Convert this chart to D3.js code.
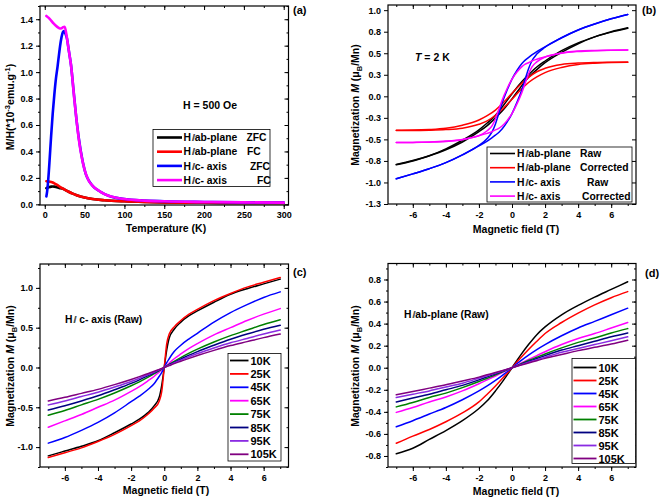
<!DOCTYPE html>
<html><head><meta charset="utf-8">
<script src="https://cdn.jsdelivr.net/npm/d3@7"></script>
<style>
body{margin:0;background:#fff}
svg{display:block}
text{font-family:"Liberation Sans",Arial,sans-serif;font-weight:bold;fill:#000}
</style>
</head><body>
<svg id="chart" width="660" height="499"></svg>
<script>
// ---------------- Panel (a): M/H vs T ----------------
const aTempZFCab = [2,4,6,8,10,12,14,16,18,20,22,25,30,35,40,50,60,75,100,125,150,200,250,300];
const aZFCab     = [0.122,0.127,0.131,0.134,0.135,0.134,0.132,0.128,0.124,0.122,0.119,0.111,0.095,0.081,0.069,0.051,0.04,0.031,0.023,0.018,0.015,0.012,0.011,0.01];
const aTempFCab  = [2,5,8,10,12,15,18,20,22,25,30,35,40,50,60,75,100,125,150,200,250,300];
const aFCab      = [0.175,0.173,0.169,0.165,0.159,0.149,0.137,0.128,0.121,0.112,0.095,0.081,0.069,0.051,0.04,0.031,0.023,0.018,0.015,0.012,0.011,0.01];
const aTempZFCc  = [2,3,4,5,6,8,10,12,14,16,18,20,22,24,26,28,30,33,36,40,45,50,60,70,80,100,150,200,250,300];
const aZFCc      = [0.06,0.1,0.16,0.24,0.33,0.52,0.69,0.83,0.95,1.04,1.14,1.23,1.29,1.31,1.29,1.25,1.17,1.05,0.87,0.63,0.41,0.26,0.14,0.095,0.065,0.04,0.023,0.018,0.015,0.013];
const aTempFCc   = [2,5,8,11,14,17,19,21,23,25,27,29,31,33,35,37,40,43,46,50,55,60,70,80,90,100,125,150,200,250,300];
const aFCc       = [1.425,1.41,1.39,1.368,1.35,1.336,1.33,1.332,1.34,1.343,1.29,1.21,1.13,1.05,0.93,0.8,0.63,0.48,0.37,0.26,0.18,0.14,0.095,0.065,0.05,0.04,0.028,0.023,0.018,0.015,0.013];
const aXTicks = [0,50,100,150,200,250,300];
const aXTickLabels = ["0","50","100","150","200","250","300"];
const aYTicks = [0,0.2,0.4,0.6,0.8,1.0,1.2,1.4];
const aYTickLabels = ["0.0","0.2","0.4","0.6","0.8","1.0","1.2","1.4"];
const aLegend = [["ab-plane","ZFC"],["ab-plane","FC"],["c- axis","ZFC"],["c- axis","FC"]];

// ---------------- Panel (b): loops at 2 K ----------------
const bH  = [-7,-6,-5,-4,-3,-2,-1.5,-1,-0.5,0,0.5,1,1.5,2,3,4,5,6,7];
const bAbRawUp   = [-0.795,-0.75,-0.69,-0.62,-0.53,-0.41,-0.34,-0.25,-0.15,-0.03,0.1,0.22,0.31,0.39,0.51,0.61,0.69,0.745,0.79];
const bAbRawDown = [-0.79,-0.745,-0.69,-0.61,-0.51,-0.39,-0.31,-0.22,-0.1,0.03,0.15,0.25,0.34,0.41,0.53,0.62,0.69,0.75,0.795];
const bAbCorUp   = [-0.398,-0.396,-0.393,-0.386,-0.37,-0.325,-0.285,-0.22,-0.135,-0.035,0.07,0.16,0.225,0.275,0.335,0.37,0.385,0.392,0.394];
const bAbCorDown = [-0.394,-0.392,-0.385,-0.37,-0.335,-0.275,-0.225,-0.16,-0.07,0.035,0.135,0.22,0.285,0.325,0.37,0.386,0.393,0.396,0.398];
const bHc = [-7,-6,-5,-4,-3,-2,-1.5,-1.2,-1,-0.8,-0.6,-0.3,0,0.3,0.6,0.8,1,1.2,1.5,2,3,4,5,6,7];
const bCRawUp   = [-0.957,-0.9,-0.84,-0.77,-0.68,-0.575,-0.52,-0.48,-0.45,-0.42,-0.38,-0.3,-0.2,-0.07,0.08,0.2,0.32,0.41,0.49,0.57,0.68,0.77,0.84,0.9,0.95];
const bCRawDown = [-0.957,-0.9,-0.84,-0.77,-0.68,-0.57,-0.49,-0.41,-0.32,-0.2,-0.08,0.07,0.2,0.3,0.38,0.42,0.45,0.48,0.52,0.575,0.68,0.77,0.84,0.9,0.95];
const bCCorUp   = [-0.537,-0.535,-0.532,-0.525,-0.503,-0.457,-0.43,-0.41,-0.39,-0.373,-0.345,-0.282,-0.2,-0.088,0.045,0.153,0.26,0.34,0.4,0.457,0.5,0.52,0.53,0.535,0.537];
const bCCorDown = [-0.537,-0.535,-0.53,-0.52,-0.5,-0.457,-0.4,-0.34,-0.26,-0.153,-0.045,0.088,0.2,0.282,0.345,0.373,0.39,0.41,0.43,0.457,0.503,0.525,0.532,0.535,0.537];
const bXTicks = [-6,-4,-2,0,2,4,6];
const bXTickLabels = ["-6","-4","-2","0","2","4","6"];
const bYTicks = [1.0,0.75,0.5,0.25,0,-0.25,-0.5,-0.75,-1.0,-1.25];
const bYTickLabels = ["1.0","0.8","0.5","0.3","0.0","-0.3","-0.5","-0.8","-1.0","-1.3"];
const bLegend = [["ab-plane","Raw"],["ab-plane","Corrected"],["c- axis","Raw"],["c- axis","Corrected"]];

// ---------------- Panel (c): H // c-axis, raw ----------------
const temps = ["10K","25K","45K","65K","75K","85K","95K","105K"];
const tempColors = ["#000000","#ff0000","#0000ff","#ff00ff","#008000","#000080","#8a2be2","#800080"];
const cH = [-7,-6,-5,-4,-3,-2,-1.5,-1,-0.6,-0.3,-0.15,0,0.15,0.3,0.6,1,1.5,2,3,4,5,6,7];
const c10K  = [-1.11,-1.05,-0.99,-0.92,-0.82,-0.71,-0.65,-0.57,-0.48,-0.37,-0.22,0,0.22,0.37,0.48,0.57,0.65,0.71,0.82,0.92,0.99,1.05,1.11];
const c25K  = [-1.13,-1.07,-1.01,-0.93,-0.84,-0.73,-0.67,-0.59,-0.51,-0.42,-0.3,0,0.3,0.42,0.51,0.59,0.67,0.73,0.84,0.93,1.01,1.07,1.13];
const c45K  = [-0.95,-0.88,-0.79,-0.69,-0.57,-0.43,-0.36,-0.28,-0.2,-0.11,-0.06,0,0.06,0.11,0.2,0.28,0.36,0.43,0.57,0.69,0.79,0.88,0.95];
const c65K  = [-0.75,-0.67,-0.59,-0.5,-0.41,-0.3,-0.24,-0.17,-0.11,-0.055,-0.028,0,0.028,0.055,0.11,0.17,0.24,0.3,0.41,0.5,0.59,0.67,0.74];
const c75K  = [-0.6,-0.54,-0.47,-0.4,-0.32,-0.23,-0.18,-0.125,-0.077,-0.039,-0.02,0,0.02,0.039,0.077,0.125,0.18,0.23,0.32,0.4,0.47,0.54,0.6];
const c85K  = [-0.535,-0.48,-0.42,-0.355,-0.28,-0.2,-0.155,-0.105,-0.065,-0.033,-0.017,0,0.017,0.033,0.065,0.105,0.155,0.2,0.28,0.355,0.42,0.48,0.53];
const c95K  = [-0.47,-0.42,-0.365,-0.31,-0.245,-0.175,-0.135,-0.092,-0.056,-0.028,-0.014,0,0.014,0.028,0.056,0.092,0.135,0.175,0.245,0.31,0.365,0.42,0.47];
const c105K = [-0.42,-0.375,-0.325,-0.275,-0.215,-0.15,-0.115,-0.078,-0.048,-0.024,-0.012,0,0.012,0.024,0.048,0.078,0.115,0.15,0.215,0.275,0.325,0.375,0.42];
const cXTicks = [-6,-4,-2,0,2,4,6];
const cXTickLabels = ["-6","-4","-2","0","2","4","6"];
const cYTicks = [-1.0,-0.5,0,0.5,1.0];
const cYTickLabels = ["-1.0","-0.5","0.0","0.5","1.0"];

// ---------------- Panel (d): H // ab-plane, raw ----------------
const dH = [-7,-6,-5,-4,-3,-2,-1.5,-1,-0.5,0,0.5,1,1.5,2,3,4,5,6,7];
const d10K  = [-0.78,-0.73,-0.65,-0.57,-0.48,-0.37,-0.3,-0.21,-0.11,0,0.11,0.21,0.3,0.37,0.48,0.565,0.64,0.71,0.78];
const d25K  = [-0.685,-0.62,-0.56,-0.49,-0.41,-0.31,-0.24,-0.165,-0.085,0,0.085,0.165,0.24,0.31,0.41,0.495,0.57,0.635,0.69];
const d45K  = [-0.535,-0.48,-0.42,-0.36,-0.29,-0.21,-0.165,-0.115,-0.06,0,0.06,0.115,0.165,0.21,0.29,0.36,0.42,0.48,0.54];
const d65K  = [-0.405,-0.36,-0.31,-0.265,-0.21,-0.145,-0.11,-0.075,-0.038,0,0.038,0.075,0.11,0.145,0.21,0.265,0.31,0.36,0.41];
const d75K  = [-0.355,-0.315,-0.27,-0.23,-0.18,-0.125,-0.095,-0.065,-0.033,0,0.033,0.065,0.095,0.125,0.18,0.23,0.27,0.315,0.355];
const d85K  = [-0.31,-0.275,-0.24,-0.2,-0.16,-0.11,-0.083,-0.056,-0.028,0,0.028,0.056,0.083,0.11,0.16,0.2,0.24,0.28,0.315];
const d95K  = [-0.27,-0.24,-0.21,-0.175,-0.14,-0.095,-0.072,-0.049,-0.025,0,0.025,0.049,0.072,0.095,0.14,0.175,0.21,0.245,0.28];
const d105K = [-0.245,-0.215,-0.185,-0.155,-0.12,-0.085,-0.064,-0.043,-0.022,0,0.022,0.043,0.064,0.085,0.12,0.155,0.185,0.215,0.25];
const dXTicks = [-6,-4,-2,0,2,4,6];
const dXTickLabels = ["-6","-4","-2","0","2","4","6"];
const dYTicks = [-0.8,-0.6,-0.4,-0.2,0,0.2,0.4,0.6,0.8];
const dYTickLabels = ["-0.8","-0.6","-0.4","-0.2","0.0","0.2","0.4","0.6","0.8"];

// ---------------- drawing helpers ----------------
const svg = d3.select("#chart");

function minorBetween(majors, step, domain){
  const out = [];
  const lo = domain[0], hi = domain[1];
  const start = Math.ceil(lo/step - 1e-9);
  for (let k = start; k*step <= hi + 1e-9; k++) out.push(+(k*step).toFixed(6));
  return out;
}

function axes(g, x, y, o){
  const [x0,x1] = x.range(), [y0,y1] = y.range();
  const add = (axis, tx, ty) => {
    const a = g.append("g").attr("transform",`translate(${tx},${ty})`).call(axis);
    a.select(".domain").remove();
    a.selectAll("line").attr("stroke","#000").attr("stroke-width",1);
    a.selectAll("text").attr("font-family",'"Liberation Sans",Arial,sans-serif').attr("font-weight","bold").attr("font-size",o.tickFont||9).attr("fill","#000");
    return a;
  };
  const lab = (vals, labels) => d => labels[vals.findIndex(v => Math.abs(v-d)<1e-9)];
  add(d3.axisBottom(x).tickValues(o.xMinor).tickSize(2).tickFormat(""), 0, y0);
  add(d3.axisBottom(x).tickValues(o.xMajor).tickSize(4).tickPadding(o.xPad||4).tickFormat(lab(o.xMajor,o.xLabels)), 0, y0);
  add(d3.axisTop(x).tickValues(o.xMinor).tickSize(-2).tickFormat(""), 0, y1);
  add(d3.axisTop(x).tickValues(o.xMajor).tickSize(-4).tickFormat(""), 0, y1);
  add(d3.axisLeft(y).tickValues(o.yMinor).tickSize(2).tickFormat(""), x0, 0);
  add(d3.axisLeft(y).tickValues(o.yMajor).tickSize(4).tickPadding(3).tickFormat(lab(o.yMajor,o.yLabels)), x0, 0);
  add(d3.axisRight(y).tickValues(o.yMinor).tickSize(-2).tickFormat(""), x1, 0);
  add(d3.axisRight(y).tickValues(o.yMajor).tickSize(-4).tickFormat(""), x1, 0);
  g.append("rect").attr("x",x0).attr("y",y1).attr("width",x1-x0).attr("height",y0-y1)
    .attr("fill","none").attr("stroke","#000").attr("stroke-width",1.2);
}

function series(g, x, y, xs, ys, color, w){
  const pts = xs.map((v,i)=>[v, ys[i]]);
  g.append("path").datum(pts)
    .attr("d", d3.line().x(d=>x(d[0])).y(d=>y(d[1])).curve(d3.curveMonotoneX))
    .attr("fill","none").attr("stroke",color).attr("stroke-width",w)
    .attr("stroke-linejoin","round").attr("stroke-linecap","round");
}

function parText(g, x, y, rest, size){
  const t = g.append("text").attr("x",x).attr("y",y).attr("font-size",size);
  t.append("tspan").text("H");
  t.append("tspan").attr("font-weight","normal").attr("font-size",size*0.8).attr("letter-spacing",-1.6).attr("dx",1).text("//");
  t.append("tspan").attr("dx",1.5).text(rest);
  return t;
}

// ---------------- Panel (a) ----------------
{
  const g = svg.append("g");
  const x = d3.scaleLinear().domain([-6,306]).range([40,288.5]);
  const y = d3.scaleLinear().domain([-0.005,1.5]).range([205,6]);
  series(g,x,y,aTempZFCab,aZFCab,"#000000",2.6);
  series(g,x,y,aTempFCab,aFCab,"#ff0000",2.6);
  series(g,x,y,aTempZFCc,aZFCc,"#0000ff",2.6);
  series(g,x,y,aTempFCc,aFCc,"#ff00ff",2.6);
  axes(g,x,y,{xMajor:aXTicks,xLabels:aXTickLabels,xMinor:minorBetween(aXTicks,25,[0,300]),
    yMajor:aYTicks,yLabels:aYTickLabels,yMinor:minorBetween(aYTicks,0.1,[0,1.5]),xPad:3});
  const lc = ["#000000","#ff0000","#0000ff","#ff00ff"];
  g.append("rect").attr("x",153).attr("y",129.5).attr("width",117).attr("height",57).attr("fill","#fff").attr("stroke","#000").attr("stroke-width",0.8);
  const colX = [246.5,247,250,257];
  aLegend.forEach((e,i)=>{
    const yy = 137.5 + i*14.2;
    g.append("line").attr("x1",157).attr("x2",182).attr("y1",yy).attr("y2",yy).attr("stroke",lc[i]).attr("stroke-width",2.6);
    parText(g,183.5,yy+3.7,e[0],10.3);
    g.append("text").attr("x",colX[i]).attr("y",yy+3.7).attr("font-size",10.3).text(e[1]);
  });
  g.append("text").attr("x",210).attr("y",109).attr("text-anchor","middle").attr("font-size",10.5).text("H = 500 Oe");
  g.append("text").attr("x",293).attr("y",14).attr("font-size",11).text("(a)");
  g.append("text").attr("x",166).attr("y",232).attr("text-anchor","middle").attr("font-size",10.5).text("Temperature (K)");
  const yt = g.append("text").attr("transform","translate(14,107) rotate(-90)").attr("text-anchor","middle").attr("font-size",10.5);
  yt.append("tspan").text("M/H(*10");
  yt.append("tspan").attr("font-size",7.5).attr("dy",-4).text("-3");
  yt.append("tspan").attr("dy",4).text("emu.g");
  yt.append("tspan").attr("font-size",7.5).attr("dy",-4).text("-1");
  yt.append("tspan").attr("dy",4).text(")");
}

function ylabelM(g, cx, cy){
  const t = g.append("text").attr("transform",`translate(${cx},${cy}) rotate(-90)`).attr("text-anchor","middle").attr("font-size",10.5);
  t.append("tspan").text("Magnetization ");
  t.append("tspan").attr("font-style","italic").text("M");
  t.append("tspan").text(" (\u03bc");
  t.append("tspan").attr("font-size",7.5).attr("dy",3).text("B");
  t.append("tspan").attr("dy",-3).text("/Mn)");
}

// ---------------- Panel (b) ----------------
{
  const g = svg.append("g");
  const x = d3.scaleLinear().domain([-7.5,7.5]).range([388,636]);
  const y = d3.scaleLinear().domain([-1.25,1.06]).range([204,5]);
  const w = 1.5;
  series(g,x,y,bH,bAbRawUp,"#000000",w); series(g,x,y,bH,bAbRawDown,"#000000",w);
  series(g,x,y,bH,bAbCorUp,"#ff0000",w); series(g,x,y,bH,bAbCorDown,"#ff0000",w);
  series(g,x,y,bHc,bCRawUp,"#0000ff",w); series(g,x,y,bHc,bCRawDown,"#0000ff",w);
  series(g,x,y,bHc,bCCorUp,"#ff00ff",w); series(g,x,y,bHc,bCCorDown,"#ff00ff",w);
  axes(g,x,y,{xMajor:bXTicks,xLabels:bXTickLabels,xMinor:minorBetween(bXTicks,1,[-7,7]),
    yMajor:bYTicks,yLabels:bYTickLabels,yMinor:[]});
  const lc = ["#000000","#ff0000","#0000ff","#ff00ff"];
  g.append("rect").attr("x",487).attr("y",147).attr("width",145).attr("height",55).attr("fill","#fff").attr("stroke","#000").attr("stroke-width",0.8);
  const colX = [580,580,587,582];
  bLegend.forEach((e,i)=>{
    const yy = 153.5 + i*14.2;
    g.append("line").attr("x1",490).attr("x2",515).attr("y1",yy).attr("y2",yy).attr("stroke",lc[i]).attr("stroke-width",1.6);
    parText(g,517,yy+3.7,e[0],10.3);
    g.append("text").attr("x",colX[i]).attr("y",yy+3.7).attr("font-size",10.3).text(e[1]);
  });
  const tt = g.append("text").attr("x",415).attr("y",61).attr("font-size",10.5);
  tt.append("tspan").attr("font-style","italic").text("T");
  tt.append("tspan").text(" = 2 K");
  g.append("text").attr("x",642).attr("y",14).attr("font-size",11).text("(b)");
  g.append("text").attr("x",516).attr("y",233).attr("text-anchor","middle").attr("font-size",10.5).text("Magnetic field (T)");
  ylabelM(g,359,105);
}

// ---------------- Panel (c) ----------------
{
  const g = svg.append("g");
  const x = d3.scaleLinear().domain([-7.5,7.5]).range([40,288.5]);
  const y = d3.scaleLinear().domain([-1.25,1.3]).range([467,264]);
  const data = [c10K,c25K,c45K,c65K,c75K,c85K,c95K,c105K];
  data.forEach((s,i)=>series(g,x,y,cH,s,tempColors[i],1.5));
  axes(g,x,y,{xMajor:cXTicks,xLabels:cXTickLabels,xMinor:minorBetween(cXTicks,1,[-7,7]),
    yMajor:cYTicks,yLabels:cYTickLabels,yMinor:minorBetween(cYTicks,0.25,[-1.25,1.25])});
  g.append("rect").attr("x",228).attr("y",353.5).attr("width",53).attr("height",107.5).attr("fill","#fff").attr("stroke","#000").attr("stroke-width",0.8);
  temps.forEach((t,i)=>{
    const yy = 360.5 + i*13.4;
    g.append("line").attr("x1",230).attr("x2",248.5).attr("y1",yy).attr("y2",yy).attr("stroke",tempColors[i]).attr("stroke-width",1.8);
    g.append("text").attr("x",250.5).attr("y",yy+4).attr("font-size",11).text(t);
  });
  parText(g,65,323," c- axis (Raw)",10.3);
  g.append("text").attr("x",293).attr("y",276).attr("font-size",11).text("(c)");
  g.append("text").attr("x",166).attr("y",494).attr("text-anchor","middle").attr("font-size",10.5).text("Magnetic field (T)");
  ylabelM(g,14,366);
}

// ---------------- Panel (d) ----------------
{
  const g = svg.append("g");
  const x = d3.scaleLinear().domain([-7.5,7.5]).range([388,636]);
  const y = d3.scaleLinear().domain([-0.9,0.945]).range([467,263.5]);
  const data = [d10K,d25K,d45K,d65K,d75K,d85K,d95K,d105K];
  data.forEach((s,i)=>series(g,x,y,dH,s,tempColors[i],1.5));
  axes(g,x,y,{xMajor:dXTicks,xLabels:dXTickLabels,xMinor:minorBetween(dXTicks,1,[-7,7]),
    yMajor:dYTicks,yLabels:dYTickLabels,yMinor:minorBetween(dYTicks,0.1,[-0.9,0.9])});
  g.append("rect").attr("x",572).attr("y",358.5).attr("width",63.5).attr("height",105).attr("fill","#fff").attr("stroke","#000").attr("stroke-width",0.8);
  temps.forEach((t,i)=>{
    const yy = 367.5 + i*13;
    g.append("line").attr("x1",573.5).attr("x2",596.5).attr("y1",yy).attr("y2",yy).attr("stroke",tempColors[i]).attr("stroke-width",1.8);
    g.append("text").attr("x",598.5).attr("y",yy+4).attr("font-size",11).text(t);
  });
  parText(g,404,317.5,"ab-plane (Raw)",10.3);
  g.append("text").attr("x",645).attr("y",277).attr("font-size",11).text("(d)");
  g.append("text").attr("x",516).attr("y",495).attr("text-anchor","middle").attr("font-size",10.5).text("Magnetic field (T)");
  ylabelM(g,359,366);
}
</script>
</body></html>
